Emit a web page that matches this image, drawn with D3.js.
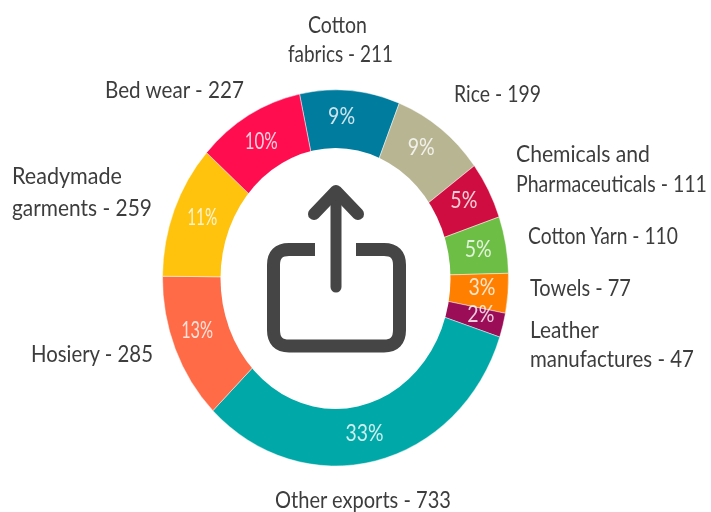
<!DOCTYPE html>
<html><head><meta charset="utf-8">
<script src="https://cdn.jsdelivr.net/npm/d3@7/dist/d3.min.js"></script>
<style>html,body{margin:0;padding:0;background:#fff}svg{display:block}text{font-family:Lato,"Open Sans",sans-serif}</style>
</head><body><div id="c"></div>
<script>
const categories=["Cotton fabrics","Rice","Chemicals and Pharmaceuticals","Cotton Yarn","Towels","Leather manufactures","Other exports","Hosiery","Readymade garments","Bed wear"];
const values=[211,199,111,110,77,47,733,285,259,227];
const percents=["9%","9%","5%","5%","3%","2%","33%","13%","11%","10%"];
const colors=["#007b9e","#b8b593","#d0103f","#6cbe45","#ff7f00","#9b0a56","#00a8a8","#ff6b47","#ffc20e","#ff1050"];
const labelLines=[["Cotton","fabrics - 211"],["Rice - 199"],["Chemicals and","Pharmaceuticals - 111"],["Cotton Yarn - 110"],["Towels - 77"],["Leather","manufactures - 47"],["Other exports - 733"],["Hosiery - 285"],["Readymade","garments - 259"],["Bed wear - 227"]];

// layout, separate from the data: [left, baseline, width] of each label line
const labelLayout=[[[308,33,59],[288,62,105]],[[454,102,87]],[[516,162,134],[516,192,191]],[[528,244,150]],[[530,296,101]],[[530,338,69],[530,367,164]],[[275,508,176]],[[31,362,122]],[[12,184,110],[12,216,140]],[[105,98,139]]];
const pctNudge=[[-6,-7],[-2,-7],[1,-6],[1,-2],[3,-4],[6,-4],[-4,2],[-5,-8],[1,-5],[-2,-3]];
const pctWidth=[27,27,27,27,27,27,38,32,30,33];

const W=711,H=512,cx=335.5,cy=278,R=173,r=115,yStretch=188/173;
const svg=d3.select("#c").append("svg").attr("width",W).attr("height",H);
const defs=svg.append("defs");
defs.append("filter").attr("id","soft").append("feGaussianBlur").attr("stdDeviation",0.5);
const root=svg.append("g").attr("filter","url(#soft)");

const start=-12*Math.PI/180;
const pie=d3.pie().sort(null).startAngle(start).endAngle(start+2*Math.PI);
const arcs=pie(values);
const arc=d3.arc().innerRadius(r).outerRadius(R);
const wedge=d3.arc().innerRadius(0).outerRadius(R);

const ring=root.append("g").attr("transform",`translate(${cx},${cy}) scale(1,${yStretch})`);
ring.selectAll("path").data(arcs).join("path")
  .attr("d",wedge).attr("fill",(d,i)=>colors[i]).attr("stroke","#fff").attr("stroke-opacity",0.55).attr("stroke-width",0.8);
root.append("ellipse").attr("cx",cx).attr("cy",278.5).attr("rx",115).attr("ry",130.5).attr("fill","#fff");

// squeeze a text horizontally to the width it has in the reference
function fit(sel,x,y,w){
  const len=sel.node().getComputedTextLength();
  sel.attr("transform",`translate(${x},${y}) scale(${w/len},1)`);
}

const pct=root.append("g").attr("font-size",23).attr("fill","#fff").attr("fill-opacity",0.8);
arcs.forEach((d,i)=>{
  const c=arc.centroid(d);
  const t=pct.append("text").attr("dominant-baseline","central").text(percents[i]);
  fit(t,cx+c[0]+pctNudge[i][0]-pctWidth[i]/2,cy+c[1]*yStretch+pctNudge[i][1],pctWidth[i]);
});

const lab=root.append("g").attr("fill","#3c3c3c").attr("font-size",23);
labelLines.forEach((lines,i)=>lines.forEach((s,j)=>{
  const [x,y,w]=labelLayout[i][j];
  fit(lab.append("text").text(s),x,y,w);
}));

const icon=root.append("g").attr("fill","none").attr("stroke","#444").attr("stroke-linecap","round").attr("stroke-linejoin","round");
icon.append("path").attr("stroke-linecap","butt").attr("stroke-width",13)
  .attr("d","M315,249.5H289Q273.500,249.500 273.500,265V330Q273.500,346 289,346H384Q399.500,346 399.500,330V265Q399.500,249.500 384,249.500H356");
icon.append("path").attr("stroke-width",11).attr("d","M336,287V194");
icon.append("path").attr("stroke-width",12).attr("d","M314,214L336,191L358,214");
</script></body></html>
